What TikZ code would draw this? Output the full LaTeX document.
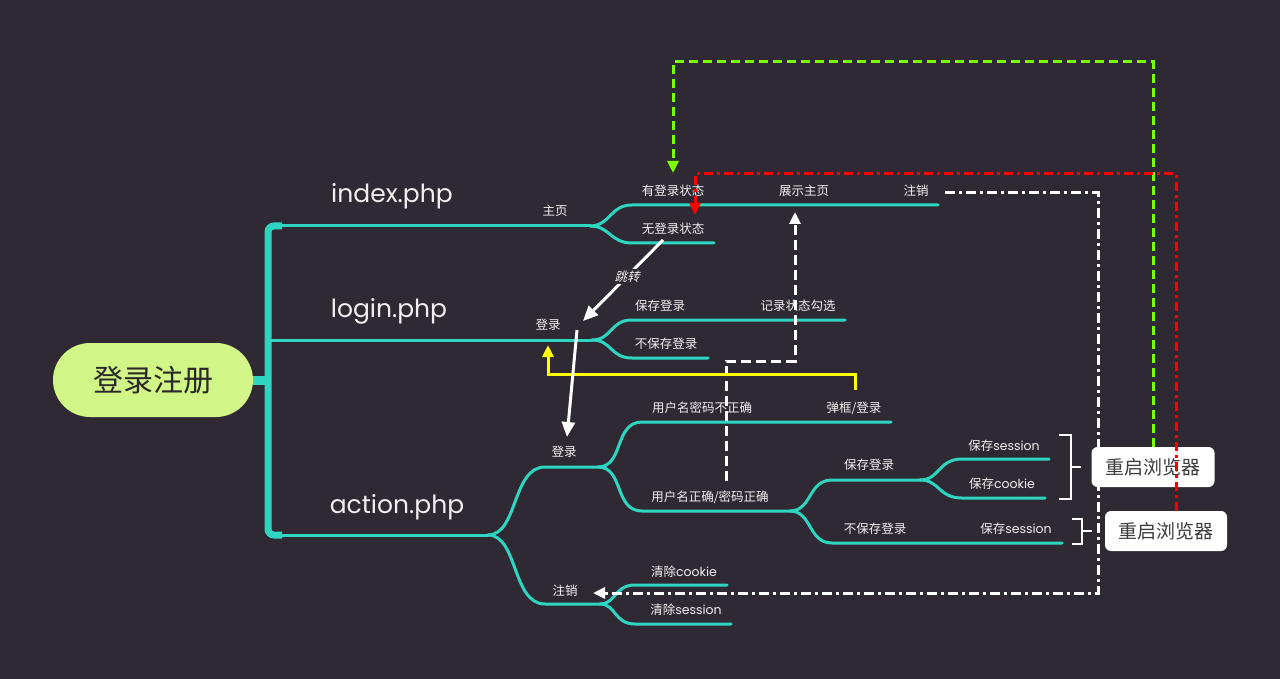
\documentclass[tikz,border=0pt]{standalone}
\usepackage{fontspec}
\setmainfont{Noto Sans CJK SC}
\newfontfamily\lat{Poppins}
\newfontfamily\cjkslant[FakeSlant=0.25]{Noto Sans CJK SC}
\usetikzlibrary{arrows.meta}

\definecolor{bgdark}{RGB}{47,41,52}
\definecolor{mapteal}{RGB}{46,214,194}
\definecolor{rootgreen}{RGB}{209,245,134}
\definecolor{rootdark}{RGB}{40,40,40}
\definecolor{labelwhite}{RGB}{240,240,240}
\definecolor{boxtext}{RGB}{60,60,60}
\definecolor{flowgreen}{RGB}{124,252,0}
\definecolor{flowred}{RGB}{255,0,0}
\definecolor{flowyellow}{RGB}{255,255,0}

\begin{document}
\begin{tikzpicture}[
    x=1pt, y=-1pt,
    every node/.style={font=\fontsize{12.5}{15}\selectfont, text=labelwhite, inner sep=1pt},
    branch/.style={draw=mapteal, line width=3pt, line cap=round},
    spine/.style={draw=mapteal, line width=7pt},
    topic/.style={font=\lat\fontsize{25}{30}\selectfont},
    rootnode/.style={fill=rootgreen, rounded corners=37pt, minimum width=200pt, minimum height=74pt, text=rootdark, font=\fontsize{30}{36}\selectfont},
    restart/.style={fill=white, rounded corners=6pt, minimum height=40pt, text=boxtext, font=\fontsize{19}{23}\selectfont},
    bracket/.style={draw=white, line width=2pt},
    tip/.style={-{Triangle[length=12pt,width=11pt]}},
    jump/.style={draw=white, line width=3pt, -{Triangle[length=15pt,width=13pt]}},
    greenflow/.style={draw=flowgreen, line width=3pt, dash pattern=on 9pt off 5pt, tip},
    redflow/.style={draw=flowred, line width=3pt, dash pattern=on 9pt off 4pt on 3pt off 4pt, tip},
    logoutflow/.style={draw=white, line width=3pt, dash pattern=on 10pt off 4pt on 3pt off 4pt, tip},
    showflow/.style={draw=white, line width=3pt, dash pattern=on 10pt off 5pt, tip},
    yellowflow/.style={draw=flowyellow, line width=3pt, tip}
]
\fill[bgdark] (0,0) rectangle (1280,679);
\useasboundingbox (0,0) rectangle (1280,679);

% root and spine
\node[rootnode] (root) at (153,380) {登录注册};
\draw[spine, line width=9pt] (root.east) -- (268,380);
\draw[spine, rounded corners=6pt] (282,226) -- (268,226) -- (268,535) -- (282,535);

% index.php
\draw[branch] (276,226) -- (590,226);
\draw[branch] (590,226) .. controls (610,226) and (610,205) .. (632,205) -- (938,205);
\draw[branch] (590,226) .. controls (610,226) and (610,243) .. (632,243) -- (714,243);

% login.php
\draw[branch] (268,340) -- (592,340);
\draw[branch] (592,340) .. controls (612,340) and (610,320) .. (632,320) -- (845,320);
\draw[branch] (592,340) .. controls (612,340) and (610,358) .. (632,358) -- (708,358);

% action.php
\draw[branch] (276,535) -- (488,535);
\draw[branch] (488,535) .. controls (518,535) and (512,467) .. (545,467) -- (598,467);
\draw[branch] (598,467) .. controls (624,467) and (614,422) .. (642,422) -- (891,422);
\draw[branch] (598,467) .. controls (624,467) and (614,511) .. (642,511) -- (790,511);
\draw[branch] (790,511) .. controls (812,511) and (808,480) .. (832,480) -- (920,480);
\draw[branch] (920,480) .. controls (940,480) and (938,459) .. (962,459) -- (1049,459);
\draw[branch] (920,480) .. controls (940,480) and (938,498) .. (962,498) -- (1045,498);
\draw[branch] (790,511) .. controls (812,511) and (808,543) .. (832,543) -- (1062,543);
\draw[branch] (488,535) .. controls (518,535) and (512,604) .. (545,604) -- (600,604);
\draw[branch] (600,604) .. controls (616,604) and (614,585) .. (635,585) -- (727,585);
\draw[branch] (600,604) .. controls (616,604) and (614,624) .. (635,624) -- (731,624);

% labels
\node[topic] (index) at (392,196) {index.php};
\node[topic] (login) at (389,311) {login.php};
\node[topic] (action) at (397,507) {action.php};

\node (home) at (555,211) {主页};
\node (hasLogin) at (673,191) {有登录状态};
\node (showHome) at (804,191) {展示主页};
\node (idxLogout) at (916,191) {注销};
\node (noLogin) at (673,229) {无登录状态};

\node (loginIn) at (548,325) {登录};
\node (keepLogin) at (660,306) {保存登录};
\node (recordCheck) at (798,306) {记录状态勾选};
\node (noKeep) at (666,344) {不保存登录};

\node (actLogin) at (564,452) {登录};
\node (wrongPwd) at (702,408) {用户名密码不正确};
\node (popup) at (854,408) {弹框/登录};
\node (rightPwd) at (710,497) {用户名正确/密码正确};
\node (actKeep) at (869,465) {保存登录};
\node (saveSess) at (1004,446) {保存{\lat session}};
\node (saveCookie) at (1002,484) {保存{\lat cookie}};
\node (actNoKeep) at (875,529) {不保存登录};
\node (saveSessB) at (1016,529) {保存{\lat session}};
\node (actLogout) at (565,591) {注销};
\node (clrCookie) at (684,572) {清除{\lat cookie}};
\node (clrSess) at (686,610) {清除{\lat session}};

% white dash-dot logout, behind the boxes
\coordinate (logoutEnd) at (593,593);
\draw[logoutflow] (945,193) -- (1098,193) -- (1098,593) -- (logoutEnd);

% brackets and restart boxes
\node[restart, minimum width=123pt] (restartA) at (1153,467) {重启浏览器};
\node[restart, minimum width=122pt] (restartB) at (1166,531) {重启浏览器};
\draw[bracket] (1059,435) -- (1071,435) -- (1071,499) -- (1059,499);
\draw[bracket] (1071,467) -- ([xshift=-10pt]restartA.west);
\draw[bracket] (1072,519) -- (1082,519) -- (1082,544) -- (1072,544);
\draw[bracket] (1082,531) -- ([xshift=-13pt]restartB.west);

% flows
\coordinate (greenEnd) at (673,173);
\coordinate (redEnd) at (695,215);
\coordinate (showStart) at (726,481);
\coordinate (showEnd) at (795,212);
\coordinate (popStart) at (855,390);
\coordinate (backEnd) at (548,345);

\draw[greenflow] (restartA.north) |- (673,62) -- (greenEnd);
\draw[redflow] ([xshift=10pt]restartB.north) |- (695,174) -- (redEnd);
\draw[showflow] (showStart) -- (726,361) -| (showEnd);
\draw[yellowflow] (popStart) |- (548,374) -- (backEnd);

\draw[jump] (663,240) -- node[pos=0.45, fill=bgdark, inner sep=2pt, font=\cjkslant\fontsize{12.5}{15}\selectfont] (jumpLabel) {跳转} (583,321);
\draw[jump] (577,330) -- (567,437);
\end{tikzpicture}
\end{document}
